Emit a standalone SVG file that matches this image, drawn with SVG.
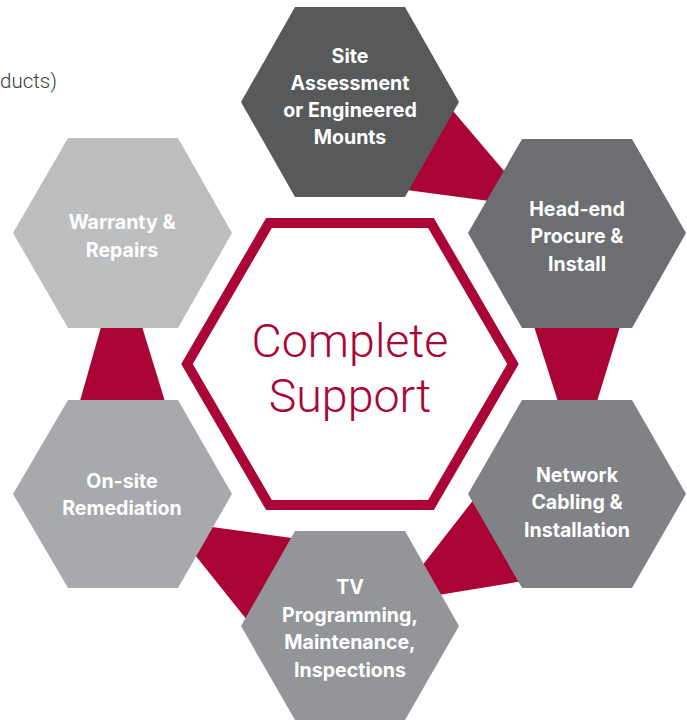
<svg xmlns="http://www.w3.org/2000/svg" width="687" height="721" viewBox="0 0 687 721">
<style>
.conn{fill:#aa0335}
.hex text{font-family:Inter,"Liberation Sans",sans-serif;font-weight:700;font-size:19.6px;fill:#ffffff;text-anchor:middle}
.center-hex{fill:#ffffff;stroke:#ab0537;stroke-width:10;stroke-linejoin:miter}
.center-text{font-family:Roboto,"Liberation Sans",sans-serif;font-weight:300;font-size:46.5px;fill:#ab0537;text-anchor:middle}
.note{font-family:Roboto,"Liberation Sans",sans-serif;font-weight:300;font-size:20.5px;fill:#3a3a3a}
</style>
<rect width="687" height="721" fill="#ffffff"/>
<text class="note" x="0" y="88">ducts)</text>
<g id="connectors">
<polygon class="conn" points="431,85 521,191 520,205 384,187"/>
<polygon class="conn" points="532,320 622,320 595,408 560,408"/>
<polygon class="conn" points="411,580 485,485 548,577 420,598"/>
<polygon class="conn" points="190,524 313,541 259,635 183,540"/>
<polygon class="conn" points="103,320 140,320 167,408 78,408"/>
</g>
<g id="center">
<polygon class="center-hex" points="269,223 431,223 513,364 431,505 269,505 187,364"/>
<text class="center-text" x="350" y="357">Complete</text>
<text class="center-text" x="350" y="412">Support</text>
</g>
<g id="site" class="hex">
<polygon fill="#58595b" points="295,7 405,7 459,102 405,197 295,197 241,102"/>
<text x="350" y="63">Site</text>
<text x="350" y="90">Assessment</text>
<text x="350" y="117">or Engineered</text>
<text x="350" y="144">Mounts</text>
</g>
<g id="headend" class="hex">
<polygon fill="#6d6e71" points="522,139 632,139 686,233 632,328 522,328 468,233"/>
<text x="577" y="216">Head-end</text>
<text x="577" y="243">Procure &amp;</text>
<text x="577" y="271">Install</text>
</g>
<g id="network" class="hex">
<polygon fill="#808285" points="522,400 632,400 686,494 632,588 522,588 468,494"/>
<text x="577" y="482">Network</text>
<text x="577" y="509">Cabling &amp;</text>
<text x="577" y="537">Installation</text>
</g>
<g id="tv" class="hex">
<polygon fill="#939598" points="295,531 405,531 459,626 405,720 295,720 241,626"/>
<text x="350" y="594">TV</text>
<text x="350" y="622">Programming,</text>
<text x="350" y="649">Maintenance,</text>
<text x="350" y="677">Inspections</text>
</g>
<g id="onsite" class="hex">
<polygon fill="#a7a9ac" points="68,400 178,400 232,494 178,588 68,588 13,494"/>
<text x="122" y="488">On-site</text>
<text x="122" y="515">Remediation</text>
</g>
<g id="warranty" class="hex">
<polygon fill="#bcbec0" points="68,138 178,138 232,233 178,328 68,328 13,233"/>
<text x="122" y="229">Warranty &amp;</text>
<text x="122" y="257">Repairs</text>
</g>
</svg>
